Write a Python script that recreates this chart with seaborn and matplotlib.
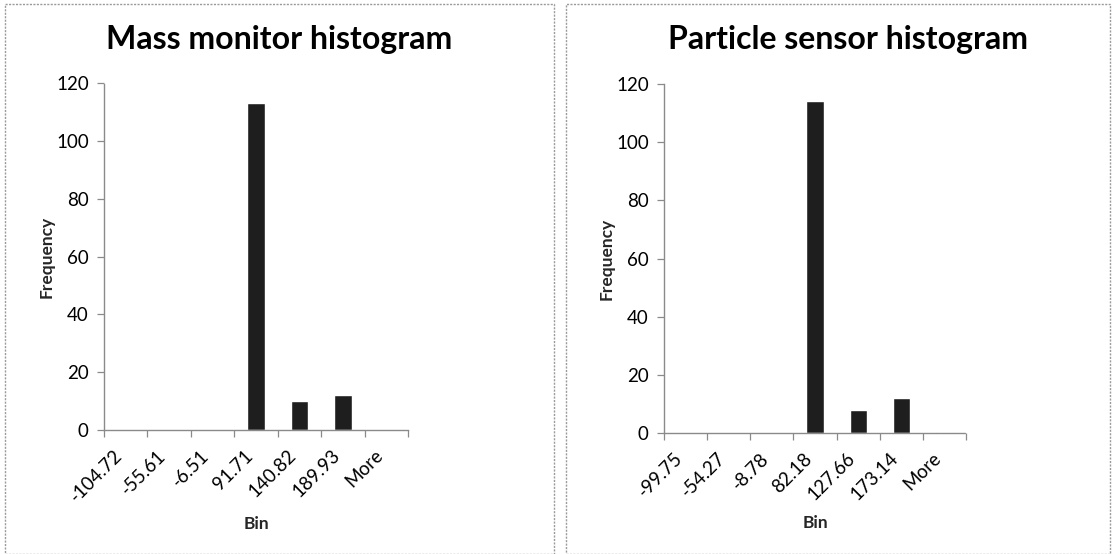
import matplotlib
matplotlib.use("Agg")
import matplotlib.pyplot as plt
import matplotlib.transforms as mtransforms
from matplotlib.patches import Rectangle
import seaborn as sns
import pandas as pd

# Histogram bins and counts for the two instruments
mass_bins = ["-104.72", "-55.61", "-6.51", "91.71", "140.82", "189.93", "More"]
mass_counts = [0, 0, 0, 113, 10, 12, 0]

particle_bins = ["-99.75", "-54.27", "-8.78", "82.18", "127.66", "173.14", "More"]
particle_counts = [0, 0, 0, 114, 8, 12, 0.5]

titles = ["Mass monitor histogram", "Particle sensor histogram"]

sns.set_theme(style="white")
plt.rcParams["font.family"] = ["Lato", "DejaVu Sans"]

fig = plt.figure(figsize=(11.13, 5.54), dpi=100)
W, H = 1113, 554

panels = [
    dict(bins=mass_bins, counts=mass_counts, title=titles[0],
         ax=(104, 430, 304, 347), frame=(5, 554, 4), title_x=279),
    dict(bins=particle_bins, counts=particle_counts, title=titles[1],
         ax=(664, 433, 302, 349), frame=(566, 1110, 4), title_x=848),
]

axis_col = "#8a8a8a"
bar_col = "#1e1e1e"

for p in panels:
    x0, y0, w, h = p["ax"]
    ax = fig.add_axes([x0 / W, (H - y0) / H, w / W, h / H])
    df = pd.DataFrame({"Bin": p["bins"], "Frequency": p["counts"]})
    sns.barplot(data=df, x="Bin", y="Frequency", order=p["bins"], color=bar_col,
                width=0.4, saturation=1, ax=ax)
    ax.set_xlim(-0.5, len(p["bins"]) - 0.5)
    ax.set_ylim(0, 120)
    ax.set_yticks(range(0, 121, 20))

    # category boundaries carry the tick marks, labels sit at the centres
    ax.set_xticks([i - 0.5 for i in range(len(p["bins"]) + 1)], minor=True)
    ax.set_xticks(range(len(p["bins"])))
    ax.set_xticklabels(p["bins"], rotation=45, ha="right", va="top",
                       fontsize=13.5)
    shift = mtransforms.ScaledTranslation(5 / 100, 0, fig.dpi_scale_trans)
    for lab in ax.get_xticklabels():
        lab.set_transform(lab.get_transform() + shift)
    ax.tick_params(axis="x", which="major", length=0, pad=12)
    ax.tick_params(axis="x", which="minor", length=5, width=0.9, color=axis_col,
                   direction="out", bottom=True)
    ax.tick_params(axis="y", length=5, width=0.9, color=axis_col, direction="out",
                   left=True, labelsize=13.5, pad=6)
    for lab in ax.get_xticklabels() + ax.get_yticklabels():
        lab.set_color("black")

    for side in ("top", "right"):
        ax.spines[side].set_visible(False)
    for side in ("left", "bottom"):
        ax.spines[side].set_color(axis_col)
        ax.spines[side].set_linewidth(1.0)
        ax.spines[side].set_linestyle((0, (1.5, 1)))

    ax.set_xlabel("Bin", fontsize=12.5, fontweight="bold", labelpad=8)
    ax.set_ylabel("Frequency", fontsize=12.5, fontweight="bold", labelpad=1)

    fx0, fx1, fy = p["frame"]
    fig.text(p["title_x"] / W, 1 - 40 / H, p["title"], ha="center", va="center",
             fontsize=23, fontweight="bold", color="black")

    fig.patches.append(Rectangle((fx0 / W, 0), (fx1 - fx0) / W, 1 - fy / H,
                                 transform=fig.transFigure, fill=False,
                                 edgecolor="#9a9a9a", linewidth=1.0,
                                 linestyle=(0, (1.5, 1)), zorder=0))

fig.savefig("out.png", dpi=100, facecolor="white")
